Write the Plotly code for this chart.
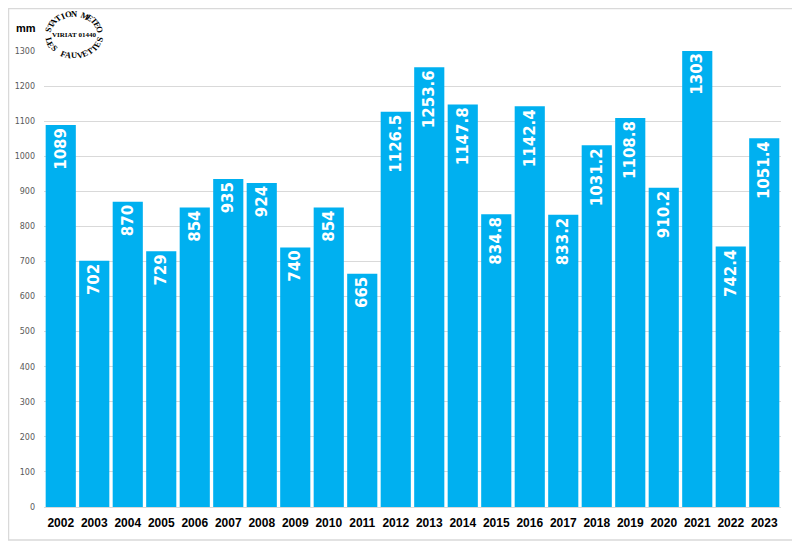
import math
import plotly.graph_objects as go

years = ["2002", "2003", "2004", "2005", "2006", "2007", "2008", "2009", "2010", "2011", "2012",
         "2013", "2014", "2015", "2016", "2017", "2018", "2019", "2020", "2021", "2022", "2023"]
rain_mm = [1089, 702, 870, 729, 854, 935, 924, 740, 854, 665, 1126.5,
           1253.6, 1147.8, 834.8, 1142.4, 833.2, 1031.2, 1108.8, 910.2, 1303, 742.4, 1051.4]
labels = ["1089", "702", "870", "729", "854", "935", "924", "740", "854", "665", "1126.5",
          "1253.6", "1147.8", "834.8", "1142.4", "833.2", "1031.2", "1108.8", "910.2", "1303", "742.4", "1051.4"]
y_ticks = list(range(0, 1301, 100))

OFF = 8  # default page body margin
W, H = 800 - OFF, 547 - OFF
# plot area in screen pixels
SL, SR, ST, SB = 44, 781, 51, 507
L, R, T, B = SL - OFF, W - (SR - OFF), ST - OFF, H - (SB - OFF)
PW, PH = SR - SL, SB - ST


def px(x):
    return (x - SL) / PW


def py(y):
    return (SB - y) / PH


def ann(text, x, y, font, angle=0):
    return dict(text=text, x=px(x), y=py(y), xref="paper", yref="paper", showarrow=False,
                xanchor="center", yanchor="middle", textangle=angle, font=font,
                borderpad=0)


fig = go.Figure(go.Bar(
    x=years, y=rain_mm, text=labels, texttemplate="%{text}",
    textposition="inside", insidetextanchor="end", textangle=-90,
    constraintext="none",
    textfont=dict(family="DejaVu Sans", size=15, color="white", weight="bold"),
    marker=dict(color="#00B0F0", line=dict(width=0)),
    hoverinfo="skip",
))

annotations = [ann("<b>mm</b>", 26, 28, dict(family="Liberation Sans", size=11, color="#000"))]

# stamp
cx, cy, rx, ry = 74, 34.5, 26, 21
stamp_font = dict(family="Liberation Serif", size=8.5, color="#000", weight="bold")
top_text = "STATION METEO"
bot_text = "LES FAUVETTES"
n = len(top_text)
for i, ch in enumerate(top_text):
    th = 166 - 152 * i / (n - 1)
    x = cx + rx * math.cos(math.radians(th))
    y = cy - ry * math.sin(math.radians(th))
    annotations.append(ann(ch, x, y, stamp_font, 90 - th))
n = len(bot_text)
for i, ch in enumerate(bot_text):
    th = 196 + 150 * i / (n - 1)
    x = cx + rx * math.cos(math.radians(th))
    y = cy - ry * math.sin(math.radians(th))
    annotations.append(ann(ch, x, y, stamp_font, 270 - th))
annotations.append(ann("VIRIAT 01440", cx, cy,
                       dict(family="Liberation Serif", size=7, color="#000", weight="bold")))

fig.update_layout(
    width=W, height=H,
    margin=dict(l=L, r=R, t=T, b=B, autoexpand=False),
    paper_bgcolor="white", plot_bgcolor="white",
    bargap=0.1,
    showlegend=False,
    annotations=annotations,
    shapes=[dict(type="rect", xref="paper", yref="paper",
                 x0=px(8.5), x1=px(793), y0=py(540), y1=py(8.5),
                 line=dict(color="#d9d9d9", width=1.5))],
    xaxis=dict(type="category", tickfont=dict(family="Liberation Sans", size=12, color="#000", weight="bold"),
               showgrid=False, ticks="", showline=False, ticklabelstandoff=7, automargin=False),
    yaxis=dict(range=[0, 1300], tickvals=y_ticks, showgrid=True, gridcolor="#d9d9d9", gridwidth=1,
               zeroline=True, zerolinecolor="#d9d9d9", zerolinewidth=1,
               tickfont=dict(family="DejaVu Sans", size=8, color="#595959"),
               ticks="", ticklabelstandoff=8, showline=False, automargin=False),
)

fig.write_html("out.html")
